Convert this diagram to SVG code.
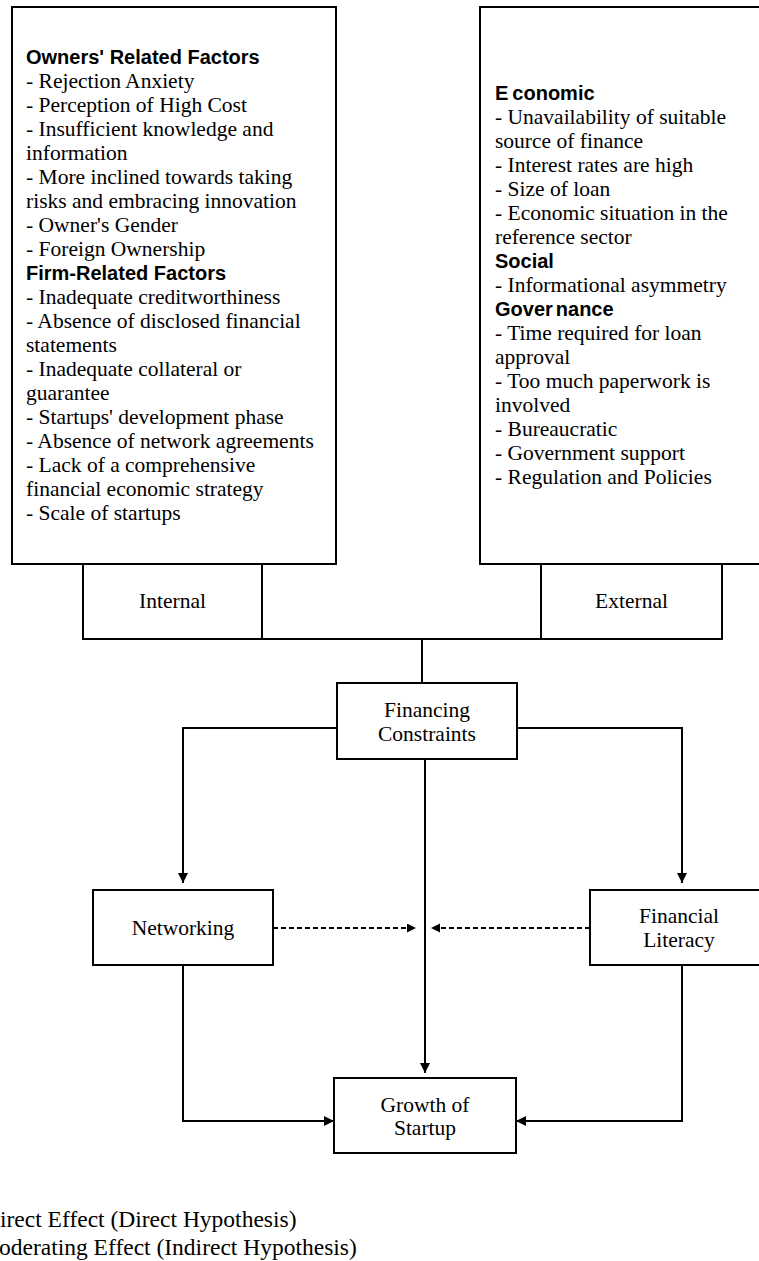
<svg xmlns="http://www.w3.org/2000/svg" width="759" height="1261" viewBox="0 0 759 1261">
<style>
.box{fill:#fff;stroke:#000;stroke-width:2}
.t{font-family:"Liberation Serif","Times New Roman",serif;font-size:21.5px;fill:#000}
.c{text-anchor:middle}
.h{font-family:"Liberation Sans",Arial,sans-serif;font-size:20px;font-weight:bold;fill:#000}
.ln{fill:none;stroke:#000;stroke-width:2}
.dash{fill:none;stroke:#000;stroke-width:2;stroke-dasharray:5 3}
.leg{font-family:"Liberation Serif","Times New Roman",serif;font-size:23.5px;fill:#000}
</style>
<defs>
<marker id="arr" markerUnits="userSpaceOnUse" markerWidth="11" markerHeight="11" refX="10" refY="5" orient="auto"><path d="M0,0 L10,5 L0,10 Z" fill="#000"/></marker>
<marker id="arrd" markerUnits="userSpaceOnUse" markerWidth="10" markerHeight="10" refX="9" refY="4.5" orient="auto"><path d="M0,0 L9,4.5 L0,9 Z" fill="#000"/></marker>
</defs>
<rect width="759" height="1261" fill="#fff"/>
<g id="internal-factors">
<rect class="box" x="12" y="7" width="324" height="557"/>
<text class="h" x="26" y="64">Owners' Related Factors</text>
<text class="t" x="26" y="88">- Rejection Anxiety</text>
<text class="t" x="26" y="112">- Perception of High Cost</text>
<text class="t" x="26" y="136">- Insufficient knowledge and</text>
<text class="t" x="26" y="160">information</text>
<text class="t" x="26" y="184">- More inclined towards taking</text>
<text class="t" x="26" y="208">risks and embracing innovation</text>
<text class="t" x="26" y="232">- Owner's Gender</text>
<text class="t" x="26" y="256">- Foreign Ownership</text>
<text class="h" x="26" y="280">Firm-Related Factors</text>
<text class="t" x="26" y="304">- Inadequate creditworthiness</text>
<text class="t" x="26" y="328">- Absence of disclosed financial</text>
<text class="t" x="26" y="352">statements</text>
<text class="t" x="26" y="376">- Inadequate collateral or</text>
<text class="t" x="26" y="400">guarantee</text>
<text class="t" x="26" y="424">- Startups' development phase</text>
<text class="t" x="26" y="448">- Absence of network agreements</text>
<text class="t" x="26" y="472">- Lack of a comprehensive</text>
<text class="t" x="26" y="496">financial economic strategy</text>
<text class="t" x="26" y="520">- Scale of startups</text>
</g>
<g id="external-factors">
<rect class="box" x="480" y="7" width="292" height="557"/>
<text class="h" x="495" y="100">E<tspan dx="4">conomic</tspan></text>
<text class="t" x="495" y="124">- Unavailability of suitable</text>
<text class="t" x="495" y="148">source of finance</text>
<text class="t" x="495" y="172">- Interest rates are high</text>
<text class="t" x="495" y="196">- Size of loan</text>
<text class="t" x="495" y="220">- Economic situation in the</text>
<text class="t" x="495" y="244">reference sector</text>
<text class="h" x="495" y="268">Social</text>
<text class="t" x="495" y="292">- Informational asymmetry</text>
<text class="h" x="495" y="316">Gover<tspan dx="3">nance</tspan></text>
<text class="t" x="495" y="340">- Time required for loan</text>
<text class="t" x="495" y="364">approval</text>
<text class="t" x="495" y="388">- Too much paperwork is</text>
<text class="t" x="495" y="412">involved</text>
<text class="t" x="495" y="436">- Bureaucratic</text>
<text class="t" x="495" y="460">- Government support</text>
<text class="t" x="495" y="484">- Regulation and Policies</text>
</g>
<g id="internal">
<rect class="box" x="83" y="564" width="179" height="75"/>
<text class="t c" x="172.5" y="608">Internal</text>
</g>
<g id="external">
<rect class="box" x="541" y="564" width="181" height="75"/>
<text class="t c" x="631.5" y="608">External</text>
</g>
<g id="connectors">
<path class="ln" d="M262,639 H541"/>
<path class="ln" d="M422,639 V683"/>
<path class="ln" d="M337,728 H183 V883" marker-end="url(#arr)"/>
<path class="ln" d="M517,728 H682 V883" marker-end="url(#arr)"/>
<path class="ln" d="M425,759 V1073" marker-end="url(#arr)"/>
<path class="ln" d="M183,965 V1121 H334" marker-end="url(#arr)"/>
<path class="ln" d="M682,965 V1121 H516" marker-end="url(#arr)"/>
<path class="dash" d="M273,928 H416" marker-end="url(#arrd)"/>
<path class="dash" d="M590,928 H431" marker-end="url(#arrd)"/>
</g>
<g id="financing-constraints">
<rect class="box" x="337" y="683" width="180" height="76"/>
<text class="t c" x="427" y="717">Financing</text>
<text class="t c" x="427" y="741">Constraints</text>
</g>
<g id="networking">
<rect class="box" x="93" y="890" width="180" height="75"/>
<text class="t c" x="183" y="935">Networking</text>
</g>
<g id="financial-literacy">
<rect class="box" x="590" y="890" width="182" height="75"/>
<text class="t c" x="679" y="923">Financial</text>
<text class="t c" x="679" y="947">Literacy</text>
</g>
<g id="growth">
<rect class="box" x="334" y="1078" width="182" height="75"/>
<text class="t c" x="425" y="1112">Growth of</text>
<text class="t c" x="425" y="1135">Startup</text>
</g>
<g id="legend">
<text class="leg" x="0" y="1227">irect Effect (Direct Hypothesis)</text>
<text class="leg" x="-1" y="1255">oderating Effect (Indirect Hypothesis)</text>
</g>
</svg>
